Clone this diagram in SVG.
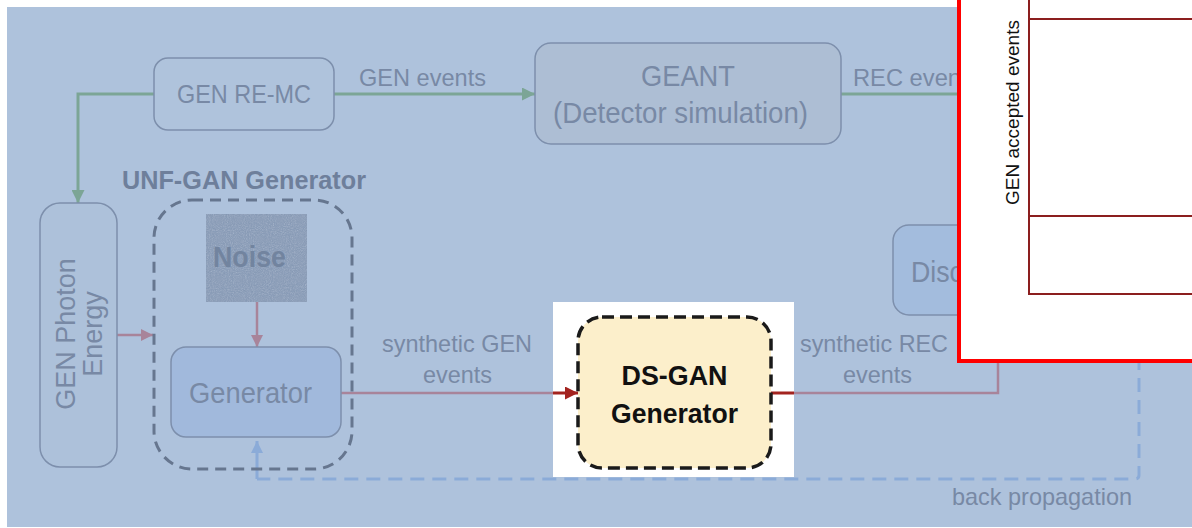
<svg xmlns="http://www.w3.org/2000/svg" width="1192" height="528" viewBox="0 0 1192 528">
  <style>
    .lbl { font-family: "Liberation Sans", Arial, sans-serif; fill: #7889a5; }
    .bold { font-family: "Liberation Sans", Arial, sans-serif; font-weight: bold; }
    .box { stroke: #7d8fac; stroke-width: 1.5; }
    .green { fill: none; stroke: #7ca596; stroke-width: 3; }
    .pink { fill: none; stroke: #a8849a; stroke-width: 2.5; }
    .red { fill: none; stroke: #a3231f; stroke-width: 3; }
    .blue { fill: none; stroke: #8babd8; stroke-width: 3; }
    .chart { stroke: #8b1e1e; stroke-width: 2; fill: none; }
  </style>
  <defs>
    <marker id="ah-green" viewBox="0 0 10 10" refX="10" refY="5" markerUnits="userSpaceOnUse" markerWidth="16" markerHeight="13" orient="auto">
      <path d="M0,0 L10,5 L0,10 z" fill="#7ca596"/>
    </marker>
    <marker id="ah-pink" viewBox="0 0 10 10" refX="10" refY="5" markerUnits="userSpaceOnUse" markerWidth="15" markerHeight="12" orient="auto">
      <path d="M0,0 L10,5 L0,10 z" fill="#a8849a"/>
    </marker>
    <marker id="ah-red" viewBox="0 0 10 10" refX="10" refY="5" markerUnits="userSpaceOnUse" markerWidth="15" markerHeight="13" orient="auto">
      <path d="M0,0 L10,5 L0,10 z" fill="#a3231f"/>
    </marker>
    <marker id="ah-blue" viewBox="0 0 10 10" refX="10" refY="5" markerUnits="userSpaceOnUse" markerWidth="16" markerHeight="12" orient="auto">
      <path d="M0,0 L10,5 L0,10 z" fill="#8babd8"/>
    </marker>
    <!-- fine speckle for the noise tile -->
    <filter id="grain" x="0" y="0" width="1" height="1">
      <feTurbulence type="fractalNoise" baseFrequency="0.95" numOctaves="2" seed="3" result="n"/>
      <feColorMatrix in="n" type="saturate" values="0" result="g"/>
      <feComposite in="SourceGraphic" in2="g" operator="arithmetic" k1="0" k2="1" k3="0.28" k4="-0.12" result="mix"/>
      <feComposite in="mix" in2="SourceGraphic" operator="in"/>
    </filter>
  </defs>

  <!-- page backdrop -->
  <rect x="0" y="0" width="1192" height="528" fill="#ffffff"/>
  <rect x="7" y="7" width="1185" height="520" fill="#aec2dc"/>

  <!-- connectors -->
  <g id="connectors">
    <path class="green" d="M154,94 H78 V203" marker-end="url(#ah-green)"/>
    <path class="green" d="M334,94 H535" marker-end="url(#ah-green)"/>
    <path class="green" d="M841,94 H962"/>
    <path class="pink" d="M117,335 H153" marker-end="url(#ah-pink)"/>
    <path class="pink" d="M257,302 V347" marker-end="url(#ah-pink)"/>
    <path class="pink" d="M341,393 H556"/>
    <path class="pink" d="M792,393 H998 V356"/>
    <path class="blue" d="M1139,356 V475 Q1139,479 1135,479 H257" stroke-dasharray="14 8"/>
    <path class="blue" d="M257,479 V441" marker-end="url(#ah-blue)"/>
  </g>

  <!-- edge labels -->
  <g id="edge-labels">
    <text class="lbl" x="359" y="86" font-size="24" textLength="127" lengthAdjust="spacingAndGlyphs">GEN events</text>
    <text class="lbl" x="853" y="86" font-size="24" textLength="108" lengthAdjust="spacingAndGlyphs">REC even</text>
    <text class="lbl" x="382" y="352" font-size="24" textLength="150" lengthAdjust="spacingAndGlyphs">synthetic GEN</text>
    <text class="lbl" x="423" y="383" font-size="24" textLength="69" lengthAdjust="spacingAndGlyphs">events</text>
    <text class="lbl" x="800" y="352" font-size="24" textLength="148" lengthAdjust="spacingAndGlyphs">synthetic REC</text>
    <text class="lbl" x="843" y="383" font-size="24" textLength="69" lengthAdjust="spacingAndGlyphs">events</text>
    <text class="lbl" x="952" y="505" font-size="24" textLength="180" lengthAdjust="spacingAndGlyphs">back propagation</text>
  </g>

  <g id="gen-re-mc">
    <rect class="box" x="154" y="58" width="180" height="72" rx="14" fill="#afc3dc"/>
    <text class="lbl" x="177" y="103" font-size="25" textLength="134" lengthAdjust="spacingAndGlyphs">GEN RE-MC</text>
  </g>

  <g id="geant">
    <rect class="box" x="535" y="43" width="306" height="101" rx="16" fill="#adbed4"/>
    <text class="lbl" x="641" y="86" font-size="29" textLength="94" lengthAdjust="spacingAndGlyphs">GEANT</text>
    <text class="lbl" x="553" y="123" font-size="29" textLength="255" lengthAdjust="spacingAndGlyphs">(Detector simulation)</text>
  </g>

  <g id="gen-photon-energy">
    <rect class="box" x="40" y="203" width="77" height="264" rx="20" fill="#adc1da"/>
    <text class="lbl" font-size="27" text-anchor="middle" transform="translate(75,334) rotate(-90)">GEN Photon</text>
    <text class="lbl" font-size="27" text-anchor="middle" transform="translate(102,334) rotate(-90)">Energy</text>
  </g>

  <g id="unf-gan-generator">
    <text class="bold" x="122" y="189" font-size="25" fill="#6e7f9b" textLength="244" lengthAdjust="spacingAndGlyphs">UNF-GAN Generator</text>
    <rect x="154" y="200" width="198" height="269" rx="38" fill="none" stroke="#66768f" stroke-width="3" stroke-dasharray="11 7"/>
  </g>

  <g id="noise">
    <rect x="206" y="214" width="101" height="88" fill="#9aaac2" filter="url(#grain)"/>
    <text class="bold" x="213" y="267" font-size="29" fill="#72849f" textLength="73" lengthAdjust="spacingAndGlyphs">Noise</text>
  </g>

  <g id="generator">
    <rect class="box" x="171" y="347" width="170" height="90" rx="15" fill="#a1b9dc"/>
    <text class="lbl" x="189" y="403" font-size="29" textLength="123" lengthAdjust="spacingAndGlyphs">Generator</text>
  </g>

  <g id="discriminator">
    <rect class="box" x="893" y="225" width="120" height="90" rx="16" fill="#a3bcdd"/>
    <text class="lbl" x="911" y="282" font-size="29" textLength="52" lengthAdjust="spacingAndGlyphs">Disc</text>
  </g>

  <g id="ds-gan-generator">
    <rect x="553" y="302" width="241" height="175" fill="#ffffff"/>
    <path class="red" d="M553,393 H578" marker-end="url(#ah-red)"/>
    <path class="red" d="M771,393 H794"/>
    <rect x="578" y="317" width="193" height="151" rx="24" fill="#fcefcb" stroke="#1a1a1a" stroke-width="3.5" stroke-dasharray="12 6"/>
    <text class="bold" x="674.5" y="385" font-size="27" fill="#111111" text-anchor="middle" textLength="106" lengthAdjust="spacingAndGlyphs">DS-GAN</text>
    <text class="bold" x="674.5" y="423" font-size="27" fill="#111111" text-anchor="middle" textLength="127" lengthAdjust="spacingAndGlyphs">Generator</text>
  </g>

  <g id="accepted-events-chart">
    <rect x="959" y="-10" width="250" height="371" fill="#ffffff" stroke="#ff0000" stroke-width="4"/>
    <path class="chart" d="M1029,0 V294 H1194 M1029,19 H1194 M1029,216 H1194"/>
    <text x="0" y="0" font-family="'Liberation Sans', Arial, sans-serif" font-size="19" fill="#111111" text-anchor="middle" transform="translate(1019,112.5) rotate(-90)">GEN accepted events</text>
  </g>
</svg>
